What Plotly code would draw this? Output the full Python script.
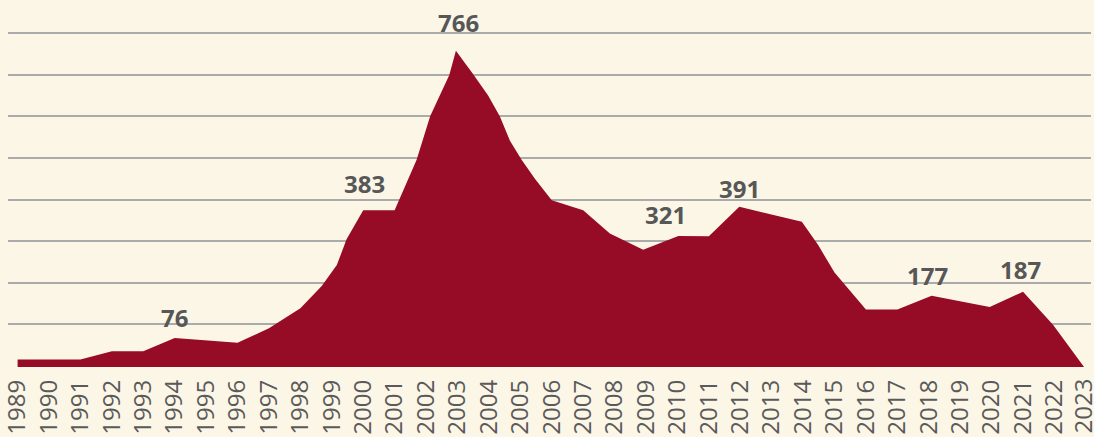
import plotly.graph_objects as go

# Vertex positions along the time axis (fractional years where the series bends mid-year)
t = [1989, 1990, 1991, 1992, 1993, 1994, 1995, 1996, 1997, 1998,
     1998.68, 1999.16, 1999.47, 2000, 2001, 2001.70, 2002.13, 2002.74,
     2002.95, 2003.50, 2003.98, 2004.35, 2004.67, 2005.04, 2005.47,
     2006, 2007, 2007.85, 2008.91, 2010.03, 2011, 2011.97, 2013.96,
     2014.48, 2015, 2016, 2017, 2018.09, 2019.94, 2021, 2021.96, 2023]
count = [24, 24, 24, 44, 44, 76, 70, 64, 99, 147,
         201, 251, 313, 383, 383, 504, 609, 708,
         766, 710, 658, 608, 550, 504, 458,
         407, 383, 327, 288, 321, 320, 391, 355,
         299, 233, 144, 144, 177, 150, 187, 107, 0]

# Highlighted values (index into the series above)
label_idx = [5, 13, 18, 29, 31, 37, 39]
# Pixel offsets of each value label relative to its point
label_dx = [0, 1, 3, -13, 0, -4, -3]
label_dy = [20, 27, 28, 21, 18, 20, 22]

years = list(range(1989, 2024))
year_labels = [str(y) for y in years]

BG = "#fcf6e7"
RED = "#960b25"
GRID = "#ababab"
TEXT = "#5a5a5a"
TICK_FONT = dict(family="Open Sans", size=24, color=TEXT)

fig = go.Figure()
fig.add_trace(go.Scatter(
    x=t, y=count, mode="lines", fill="tozeroy",
    line=dict(width=0, color=RED), fillcolor=RED,
    hoverinfo="skip", showlegend=False,
))

for i, dx, dy in zip(label_idx, label_dx, label_dy):
    fig.add_annotation(
        x=t[i], y=count[i], text=str(count[i]), showarrow=False,
        xanchor="center", yanchor="middle", xshift=dx, yshift=dy,
        font=dict(family="Open Sans", size=24, color="#575757", weight=700),
    )

# The last year sits against the right edge, so it is drawn nudged slightly inward
fig.add_annotation(
    x=years[-1], xref="x", y=0, yref="paper", text=year_labels[-1],
    textangle=-90, showarrow=False, xanchor="center", yanchor="top",
    xshift=-3, yshift=-9, font=TICK_FONT,
)

fig.update_layout(
    width=1094, height=437,
    margin=dict(l=8, r=3, t=0, b=70, autoexpand=False),
    paper_bgcolor=BG, plot_bgcolor=BG,
    xaxis=dict(
        range=[1988.6945, 2023.163], tickvals=years[:-1], ticktext=year_labels[:-1],
        tickangle=-90, ticks="", showgrid=False, zeroline=False, showline=False,
        tickfont=TICK_FONT,
        ticklabelstandoff=7, ticklabeloverflow="allow", automargin=False,
    ),
    yaxis=dict(
        range=[6.0, 888.2], tickvals=[8.4 + 100 * k for k in range(9)],
        showticklabels=False, ticks="", showgrid=True, gridcolor=GRID,
        gridwidth=2, zeroline=False, showline=False, automargin=False,
    ),
)

fig.write_html("out.html")
